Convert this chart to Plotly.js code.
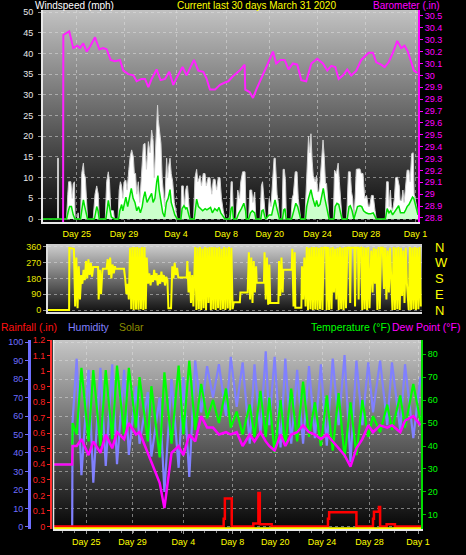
<!DOCTYPE html>
<html><head><meta charset="utf-8">
<script src="https://cdn.plot.ly/plotly-3.0.1.min.js"></script>
<style>html,body{margin:0;padding:0;background:#000;overflow:hidden}#chart{width:466px;height:555px}</style>
</head><body><div id="chart"></div>
<script>
// ---------------- DATA (x = days since left edge of chart) ----------------
const dayTicks = [2.8, 6.7, 11.0, 15.15, 18.75, 22.7, 26.7, 30.8];
const dayLabels = ['Day 25','Day 29','Day 4','Day 8','Day 20','Day 24','Day 28','Day 1'];

// Barometer (in) [day, value]
const baroSamples = [[0,28.7],[1.66,28.7],[1.68,30.34],[2.17,30.37],[2.5,30.23],[2.84,30.25],[3.06,30.23],[3.33,30.27],[3.61,30.20],[3.88,30.24],
[4.3,30.32],[4.66,30.22],[4.98,30.23],[5.26,30.22],[5.59,30.13],[5.95,30.12],[6.36,30.13],[6.64,30.04],[7.05,30.01],[7.47,30.00],
[7.74,29.95],[8.15,29.97],[8.43,29.97],[8.71,29.90],[8.98,29.97],[9.39,30.05],[9.72,29.96],[10.08,29.97],[10.44,30.03],[10.77,29.92],
[11.1,29.99],[11.54,30.07],[11.87,30.00],[12.48,30.13],[12.84,30.04],[13.25,30.03],[13.53,29.97],[13.8,29.88],[14.22,29.88],[14.63,29.92],
[15.04,29.94],[15.32,29.95],[15.68,29.99],[16.25,30.04],[16.67,30.09],[16.72,29.88],[17.08,29.86],[17.36,29.81],[17.63,29.88],[17.99,29.96],
[18.32,30.03],[18.59,30.10],[19.01,30.20],[19.28,30.10],[19.64,30.13],[19.97,30.13],[20.3,30.05],[20.66,30.10],[21.02,30.09],[21.35,29.96],
[21.76,29.95],[22.18,30.10],[22.67,30.14],[23.14,30.10],[23.5,30.04],[23.83,30.08],[24.16,30.07],[24.44,29.97],[24.8,30.00],[25.15,30.05],
[25.48,30.00],[25.9,30.04],[26.31,30.13],[26.64,30.16],[26.92,30.19],[27.27,30.19],[27.55,30.11],[27.96,30.09],[28.24,30.07],[28.57,30.11],
[28.92,30.19],[29.28,30.29],[29.61,30.23],[29.89,30.25],[30.16,30.20],[30.38,30.13],[30.66,30.04],[30.93,30.02]];

// Wind gust (mph) [day, value]
const gustSamples = [[0,0],[1.2,0],[1.21,14.7],[1.27,14.7],[1.28,0],[1.95,0],[2.05,6],[2.12,9],[2.3,9],[2.42,5],[2.5,8.5],[2.6,9],[2.66,0],[2.85,0],[2.9,1.5],[2.95,0],
[3.1,0],[3.2,11],[3.34,13.5],[3.4,11],[3.5,10],[3.62,3],[3.68,0],[4.15,0],[4.3,6],[4.44,8],[4.57,6],[4.65,0],[5.15,0],[5.26,9],[5.4,11.4],[5.5,9],[5.6,2],[5.82,2],[5.9,0],
[6.2,0],[6.3,7],[6.4,9],[6.5,8],[6.6,5],[6.7,9],[6.85,9.4],[6.95,7],[7.1,12],[7.2,15],[7.33,16.7],[7.47,15],[7.55,11],[7.65,11],[7.75,6],[7.88,9],[8.0,4],[8.1,9],
[8.2,14],[8.3,18],[8.43,18.3],[8.55,12],[8.71,18.7],[8.85,16],[8.98,21.5],[9.1,19],[9.2,10],[9.32,20],[9.4,26],[9.47,27.5],[9.53,24],[9.6,22],[9.75,18.3],[9.85,10],[9.95,5.3],[10.05,3],
[10.22,14.7],[10.3,10],[10.4,13],[10.5,14.7],[10.6,11],[10.72,9],[10.85,4],[11.0,1],[11.1,0],[11.4,0],[11.46,8],[11.6,8],[11.7,3],[11.8,7],[11.88,8],[11.95,8],[12.05,3],[12.15,0],
[12.45,0],[12.56,10],[12.7,12],[12.8,9],[12.98,10.5],[13.1,8],[13.25,11],[13.39,11],[13.5,8],[13.65,10],[13.8,10],[13.95,6],[14.08,9.6],[14.22,9.6],[14.35,7],[14.49,10],[14.63,10],[14.75,5],[14.9,2],[15.04,0],
[15.35,0],[15.45,1],[15.55,9],[15.65,9],[15.75,0],[15.95,0],[16.1,7],[16.25,5],[16.35,9],[16.5,11.4],[16.7,11.4],[16.8,0],[17.0,0],[17.1,7],[17.25,7],[17.35,4],[17.5,6.5],[17.6,0],
[17.95,0],[18.05,8],[18.15,9],[18.3,2],[18.4,0],[18.6,0],[18.7,5],[18.85,3],[19.0,9],[19.1,14.7],[19.2,14.7],[19.35,6],[19.45,4],[19.55,0],[19.75,0],[19.85,12],[19.95,12],[20.05,9],[20.12,0],
[20.5,0],[20.6,5],[20.7,6],[20.85,11.4],[21.0,11.4],[21.1,5],[21.2,3],[21.3,0],[21.65,0],[21.75,8],[21.85,12],[21.95,20],[22.05,16],[22.15,20.6],[22.25,14],[22.34,10.5],[22.5,9],[22.62,10.5],
[22.7,6.6],[22.8,6.6],[22.9,9],[23.03,15],[23.15,19.1],[23.25,15],[23.35,8.6],[23.44,8.6],[23.55,3],[23.65,0],[24.0,0],[24.1,11.8],[24.25,11],[24.4,13.5],[24.5,9],[24.6,5],[24.72,0],
[25.1,0],[25.25,11.4],[25.4,11.4],[25.5,6.6],[25.6,5],[25.7,0],[25.8,5],[25.9,12],[26.05,12.1],[26.2,12.1],[26.3,11],[26.45,11],[26.6,5],[26.75,5.7],[26.9,3],[27.0,3],[27.15,5.7],[27.3,5.7],[27.45,2],[27.55,0],
[28.3,0],[28.4,9],[28.54,9],[28.62,3],[28.72,7],[28.8,3],[28.9,2],[29.05,5],[29.15,10],[29.3,10.1],[29.45,8],[29.52,4.5],[29.65,4.5],[29.75,7],[29.85,4],[29.95,7],[30.1,11.8],[30.25,11.8],[30.35,9],
[30.48,15.8],[30.6,16],[30.68,6],[30.75,5],[30.89,3],[31.0,0]];

// Average wind (mph) [day, value]
const avgSamples = [[0,0],[1.95,0],[2.1,2],[2.2,3],[2.35,3],[2.5,1],[2.65,0],[3.1,0],[3.25,3],[3.34,4.6],[3.45,3],[3.6,1],[3.68,0],[4.25,0],[4.35,2],[4.44,3],[4.55,2],[4.65,0],
[5.2,0],[5.3,3],[5.4,4.5],[5.55,2],[5.65,0.5],[5.9,0],[6.25,0],[6.35,2],[6.5,3.5],[6.6,2],[6.7,3.5],[6.85,5.3],[7.0,3],[7.15,5],[7.3,7.4],[7.45,5],[7.6,4],[7.75,2],[7.9,3],[8.05,1.5],
[8.2,3],[8.3,5],[8.43,6.6],[8.6,4],[8.75,5],[8.98,6.2],[9.1,4],[9.25,5],[9.4,9],[9.5,10.5],[9.6,7],[9.75,4.5],[9.9,1.5],[10.05,0.5],[10.2,4],[10.35,5],[10.5,7.1],[10.6,4],[10.72,2.5],[10.9,1],[11.1,0],
[11.4,0],[11.5,2.5],[11.65,3.2],[11.8,2.5],[11.9,2.8],[12.05,1],[12.15,0],[12.5,0],[12.6,3],[12.7,4.8],[12.85,3],[13.0,2.5],[13.2,2],[13.4,2.5],[13.55,2.2],[13.7,2.5],[13.85,2.8],[14.0,1.5],
[14.2,2.5],[14.4,2],[14.55,2.8],[14.7,1.5],[14.9,0.5],[15.04,0],[15.45,0],[15.55,2.5],[15.65,3],[15.75,0],[16.0,0],[16.2,1.5],[16.4,2.5],[16.6,3.8],[16.75,2],[16.8,0],[17.0,0],[17.15,1.5],[17.3,2],[17.5,1.5],[17.6,0],
[18.0,0],[18.1,2],[18.2,2.2],[18.35,0.5],[18.4,0],[18.7,1],[18.9,1],[19.05,3],[19.18,4.6],[19.3,3],[19.45,1],[19.55,0],[19.8,0],[19.9,2.2],[20.0,2.5],[20.1,0],[20.55,0],[20.7,1.5],[20.9,3.8],[21.05,3],[21.2,1],[21.3,0],
[21.7,0],[21.8,3],[21.95,5],[22.05,6],[22.15,7.1],[22.3,5],[22.5,3],[22.62,4.5],[22.75,3],[22.9,3.5],[23.05,5.5],[23.17,7.4],[23.3,5],[23.45,3],[23.6,1],[23.65,0],[24.05,0],[24.15,3],[24.3,3.8],[24.45,3.5],[24.6,1.5],[24.72,0],
[25.15,0],[25.3,3],[25.4,3.2],[25.55,2],[25.7,0],[25.85,1.5],[26.0,3],[26.2,3.2],[26.35,3],[26.5,2],[26.7,1.5],[26.9,1.3],[27.1,1.3],[27.3,1.5],[27.45,0.5],[27.55,0],
[28.3,0],[28.45,2.5],[28.6,1.5],[28.75,2],[28.9,1],[29.1,2],[29.25,2.5],[29.4,3.2],[29.55,1.5],[29.7,1.5],[29.85,1.5],[29.95,2],[30.1,3],[30.25,3.5],[30.4,4.5],[30.55,5.3],[30.65,5],[30.8,3],[31.0,1]];

// Wind direction (degrees) [day, value]
const dirSamples = [[0,0],[1.75,0],[1.77,355],[2.15,350],[2.25,20],[2.35,300],[2.45,10],[2.55,250],[2.65,60],
[2.75,200],[2.85,150],[2.95,230],[3.05,170],[3.15,280],[3.25,180],[3.35,290],[3.45,200],[3.55,270],[3.65,190],
[3.75,245],[4.15,245],[4.2,60],[4.3,230],[4.4,90],[4.5,220],[4.55,235],[4.85,235],
[4.95,290],[5.05,200],[5.15,300],[5.25,180],[5.35,260],[5.45,210],[5.55,250],[5.6,235],[6.3,235],
[6.4,180],[6.5,90],[6.6,150],[6.7,60],
[6.8,355],[6.9,5],[7.0,360],[7.1,0],[7.2,358],[7.3,3],[7.4,360],[7.5,2],[7.6,355],[7.7,5],[7.8,360],[7.9,0],[8.0,358],[8.1,5],[8.18,300],
[8.3,150],[8.4,210],[8.5,140],[8.6,200],[8.7,160],[8.8,230],[8.9,170],[9.0,210],[9.1,140],[9.2,200],[9.3,150],[9.4,220],[9.5,160],[9.6,200],[9.7,140],[9.8,190],[9.9,170],
[9.98,10],[10.2,10],[10.3,250],[10.4,180],[10.5,270],[10.6,200],[10.7,240],[10.8,185],[11.5,185],
[11.55,280],[11.65,100],[11.75,220],[11.85,40],[11.95,200],[12.05,20],
[12.2,360],[12.3,0],[12.4,355],[12.5,5],[12.6,360],[12.7,0],[12.8,350],[12.9,10],[13.0,360],[13.1,0],[13.2,355],[13.3,40],[13.4,360],[13.5,0],[13.6,358],[13.7,5],
[13.8,360],[13.9,0],[14.0,355],[14.1,10],[14.2,360],[14.3,0],[14.4,350],[14.5,5],[14.6,360],[14.7,0],[14.8,355],[14.9,8],[15.0,360],[15.1,0],[15.2,355],[15.3,5],
[15.4,45],[15.9,45],[15.95,100],[16.55,100],
[16.65,330],[16.75,60],[16.85,300],[16.95,40],[17.05,280],[17.15,100],[17.25,250],[17.3,155],[17.9,155],
[17.95,330],[18.05,60],[18.15,300],[18.25,30],[18.35,260],[18.42,40],[19.1,40],
[19.15,280],[19.25,80],[19.35,300],[19.45,100],[19.5,230],[20.2,230],
[20.25,350],[20.35,20],[20.45,330],[20.5,13],[21.0,13],
[21.05,250],[21.15,60],[21.25,300],[21.35,20],
[21.45,360],[21.55,0],[21.65,355],[21.75,5],[21.85,360],[21.95,0],[22.05,358],[22.15,3],[22.25,360],[22.35,0],[22.45,355],[22.55,5],[22.65,360],[22.75,0],
[22.85,355],[23.05,355],[23.1,0],[23.2,360],[23.3,0],[23.4,355],[23.5,5],[23.6,360],
[23.7,100],[23.8,350],[23.9,60],[24.0,355],
[24.1,0],[24.2,360],[24.3,5],[24.4,355],[24.5,0],[24.6,360],[24.7,10],
[24.8,355],[25.0,355],[25.05,40],[25.1,355],[25.4,355],[25.45,20],[25.5,355],[25.7,355],[25.75,60],[25.8,350],[25.95,355],
[26.05,0],[26.15,360],[26.25,5],[26.35,355],[26.45,0],[26.55,360],[26.65,10],
[26.8,340],[26.9,100],[27.0,355],[27.1,150],[27.2,350],
[27.3,0],[27.4,360],[27.5,5],[27.6,355],
[27.75,355],[27.85,120],[27.95,355],[28.05,60],[28.15,340],[28.25,100],[28.35,355],[28.45,200],
[28.55,0],[28.65,360],[28.75,0],[28.85,355],[28.95,5],[29.05,360],[29.15,0],
[29.25,355],[29.35,80],[29.45,340],[29.55,40],[29.65,355],[29.75,150],
[29.9,0],[30.0,360],[30.1,0],[30.2,355],[30.3,5],[30.4,360],[30.5,0],[30.6,355],[30.7,5],[30.8,360],[30.9,20]];
const compassVals = [0, 90, 180, 270, 360];
const compassLabels = ['N','E','S','W','N'];

// Bottom panel, sampled at daily lows/highs
const climateDays = [0,1.62,1.65,2.0,2.4,3.0,3.4,4.0,4.45,5.0,5.4,6.0,6.4,7.0,7.3,8.0,8.3,9.0,9.4,10.0,
10.6,11.0,11.5,12.0,12.5,13.0,13.5,14.0,14.6,15.0,15.5,16.0,16.6,17.0,17.5,17.95,18.25,18.7,19.2,19.6,
20.1,20.6,21.1,21.6,22.1,22.6,23.1,23.6,24.1,24.6,25.1,25.6,26.1,26.6,27.0,27.6,28.2,28.6,29.3,29.7,30.4,31.0];
const temperature = [32,32,50,45,74,42,73,40,73,43,75,45,74,48,70,42,66,35,72,41,
75,45,77,47,67,52,60,50,65,48,55,45,58,44,64,44,61,37,60,40,
65,42,68,44,59,40,62,38,63,35,59,36,60,44,53,46,58,47,62,48,67,51];
const humidity = [0,0,57,91,28,85,24,86,33,88,34,85,39,76,45,73,38,70,19,80,
32,81,27,90,62,87,70,88,60,92,65,89,45,88,50,95,55,92,43,91,
45,85,45,87,48,88,44,91,55,93,35,90,55,89,62,90,55,89,52,88,48,81];
const dewPoint = [32,32,40,40,43,36,42,37,45,39,46,43,50,45,46,37,33,24,13,37,
40,36,45,42,53,48,48,45,46,45,46,40,45,42,46,42,40,38,45,40,
45,46,49,46,45,43,45,42,39,36,31,39,43,49,46,49,48,49,46,51,53,49];

// Rainfall (in), step values [day, value]
const rainSamples = [[0,0],[14.4,0.05],[14.5,0.18],[15.08,0],[16.9,0.02],[17.33,0.215],[17.45,0.015],[18.45,0],
[23.2,0.05],[23.3,0.092],[25.6,0],[27.0,0.05],[27.08,0.095],[27.5,0.126],[27.6,0],[28.15,0.015],[28.85,0],[31.05,0]];
// Solar (flat at zero over the period)
const solarSamples = [[0,0],[31.05,0]];

// ---------------- CHART ----------------
const W = 466, H = 555;
const px = v => v / W, py = v => 1 - v / H;
const FONT = "'Liberation Sans', Arial, sans-serif";
const xs = a => a.map(p => p[0]), ys = a => a.map(p => p[1]);
const grid = {showgrid: true, gridcolor: 'rgba(225,225,225,0.5)', griddash: 'dot', gridwidth: 1};

function grad(top, bottom) {
  const svg = `<svg xmlns="http://www.w3.org/2000/svg" width="10" height="100" preserveAspectRatio="none"><defs><linearGradient id="g" x1="0" y1="0" x2="0" y2="1"><stop offset="0" stop-color="${top}"/><stop offset="1" stop-color="${bottom}"/></linearGradient></defs><rect width="10" height="100" fill="url(#g)"/></svg>`;
  return 'data:image/svg+xml;charset=utf-8,' + encodeURIComponent(svg);
}
function bgImage(l, t, r, b, top, bottom) {
  return {source: grad(top, bottom), xref: 'paper', yref: 'paper', x: px(l), y: py(t),
    sizex: (r - l) / W, sizey: (b - t) / H, xanchor: 'left', yanchor: 'top', sizing: 'stretch', layer: 'below'};
}

const traces = [
  {x: xs(gustSamples), y: ys(gustSamples), xaxis: 'x', yaxis: 'y', type: 'scatter', mode: 'lines',
   fill: 'tozeroy', fillcolor: '#ffffff', line: {color: '#d0d0d0', width: 1}},
  {x: xs(avgSamples), y: ys(avgSamples), xaxis: 'x', yaxis: 'y', type: 'scatter', mode: 'lines',
   fill: 'tozeroy', fillcolor: '#ccffcc', line: {color: '#00e000', width: 1.5}},
  {x: xs(baroSamples), y: ys(baroSamples), xaxis: 'x', yaxis: 'y2', type: 'scatter', mode: 'lines',
   line: {color: '#ff22ff', width: 2}},
  {x: xs(dirSamples), y: ys(dirSamples), xaxis: 'x2', yaxis: 'y3', type: 'scatter', mode: 'lines',
   line: {color: '#ffff00', width: 2}},
  {x: [], y: [], xaxis: 'x2', yaxis: 'y4', type: 'scatter', mode: 'lines'},
  {x: climateDays, y: humidity, xaxis: 'x3', yaxis: 'y5', type: 'scatter', mode: 'lines',
   line: {color: '#8080ff', width: 2.2}},
  {x: climateDays, y: temperature, xaxis: 'x3', yaxis: 'y7', type: 'scatter', mode: 'lines',
   line: {color: '#00ff00', width: 2.2}},
  {x: climateDays, y: dewPoint, xaxis: 'x3', yaxis: 'y7', type: 'scatter', mode: 'lines',
   line: {color: '#ff00ff', width: 2.5}},
  {x: xs(solarSamples), y: ys(solarSamples), xaxis: 'x3', yaxis: 'y8', type: 'scatter', mode: 'lines',
   line: {color: '#ffff00', width: 2.5}},
  {x: xs(rainSamples), y: ys(rainSamples), xaxis: 'x3', yaxis: 'y6', type: 'scatter', mode: 'lines',
   line: {color: '#ff0000', width: 2.5, shape: 'hv'}}
];

const tickFontDay = {color: '#ffff00', size: 9, family: FONT};
const layout = {
  width: W, height: H, margin: {l: 0, r: 0, t: 0, b: 0},
  paper_bgcolor: '#000000', plot_bgcolor: 'rgba(0,0,0,0)', showlegend: false,
  font: {family: FONT, size: 9, color: '#ffffff'},
  xaxis: Object.assign({domain: [px(43), px(418)], range: [0, 31], anchor: 'y', tickmode: 'array',
    tickvals: dayTicks, ticktext: dayLabels, tickfont: tickFontDay, ticks: '', showline: true,
    linecolor: '#e8e8e8', linewidth: 2, zeroline: false, ticklabelstandoff: 2}, grid),
  yaxis: Object.assign({domain: [py(222), py(10)], range: [-0.72, 50.5], dtick: 5, tick0: 0,
    tickfont: {color: '#e8e8e8', size: 9}, ticks: 'outside', ticklen: 3, tickcolor: '#888',
    showline: true, linecolor: '#e8e8e8', linewidth: 2, zeroline: false, ticklabelstandoff: 3}, grid),
  yaxis2: {overlaying: 'y', side: 'right', anchor: 'x', range: [28.766, 30.55], dtick: 0.1, tick0: 28.8,
    tickfont: {color: '#ff00ff', size: 9}, ticks: 'outside', ticklen: 3, tickcolor: '#ff00ff',
    showline: true, linecolor: '#ff00ff', linewidth: 2, showgrid: false, zeroline: false},
  xaxis2: {domain: [px(48), px(422)], range: [0, 31], anchor: 'y3', showticklabels: false, ticks: '',
    showline: true, linecolor: '#dddddd', linewidth: 2, showgrid: false, zeroline: false},
  yaxis3: Object.assign({domain: [py(312), py(244)], range: [-11.4, 377], anchor: 'x2', tickmode: 'array',
    tickvals: compassVals, tickfont: {color: '#e6e600', size: 9}, ticks: 'outside', ticklen: 3,
    tickcolor: '#999', showline: true, linecolor: '#dddddd', linewidth: 2, zeroline: false}, grid),
  yaxis4: {overlaying: 'y3', side: 'right', anchor: 'x2', range: [-11.4, 377], tickmode: 'array',
    tickvals: compassVals, ticktext: compassLabels, tickfont: {color: '#ffff00', size: 13},
    showline: false, ticks: '', showgrid: false, zeroline: false, ticklabelstandoff: 12},
  xaxis3: Object.assign({domain: [px(53), px(421)], range: [0, 31.05], anchor: 'y5', tickmode: 'array',
    tickvals: dayTicks, ticktext: dayLabels, tickfont: tickFontDay, ticks: 'outside', ticklen: 3,
    tickcolor: '#999', showline: true, linecolor: '#e8e8e8', linewidth: 2, zeroline: false,
    minor: {ticks: 'outside', ticklen: 2, tickcolor: '#888', dtick: 1, tick0: 0.8, showgrid: false}}, grid),
  yaxis5: Object.assign({domain: [py(529), py(340)], anchor: 'free', position: px(29), side: 'left',
    range: [-1.1, 101.1], dtick: 10, tick0: 0, tickfont: {color: '#6e6eff', size: 9}, ticks: 'outside',
    ticklen: 3, tickcolor: '#6e6eff', showline: true, linecolor: '#6e6eff', linewidth: 3, zeroline: false}, grid),
  yaxis6: {overlaying: 'y5', anchor: 'free', position: px(51), side: 'left', range: [-0.016, 1.2],
    dtick: 0.1, tick0: 0, tickfont: {color: '#ff2020', size: 9}, ticks: 'outside', ticklen: 3,
    tickcolor: '#ff2020', showline: true, linecolor: '#ff3030', linewidth: 2, showgrid: false, zeroline: false},
  yaxis7: {overlaying: 'y5', side: 'right', anchor: 'x3', range: [3.9, 86.1], dtick: 10, tick0: 0,
    tickfont: {color: '#00ff00', size: 9}, ticks: 'outside', ticklen: 3, tickcolor: '#00c000',
    showline: true, linecolor: '#00dd00', linewidth: 2, showgrid: false, zeroline: false},
  yaxis8: {overlaying: 'y5', visible: false, range: [-0.3, 120]},
  images: [
    bgImage(43, 10, 418, 222, '#c2c2c2', '#080808'),
    bgImage(48, 244, 422, 312, '#d0d0d0', '#111111'),
    bgImage(53, 340, 421, 529, '#c6c6c6', '#050505')
  ],
  shapes: [
    {type: 'line', xref: 'paper', yref: 'paper', x0: px(53.5), x1: px(53.5), y0: py(529), y1: py(340),
     line: {color: '#e8e8e8', width: 1.5}}
  ],
  annotations: [
    {text: 'Windspeed (mph)', x: px(34), y: py(5.5), xanchor: 'left', color: '#ffffff', size: 10},
    {text: 'Current last 30 days March 31 2020', x: px(256), y: py(5.5), xanchor: 'center', color: '#ffff00', size: 10},
    {text: 'Barometer (.in)', x: px(441), y: py(5.5), xanchor: 'right', color: '#ff00ff', size: 10},
    {text: 'Rainfall (.in)', x: px(0), y: py(327), xanchor: 'left', color: '#ff1010', size: 10.5},
    {text: 'Humidity', x: px(67), y: py(327), xanchor: 'left', color: '#8080ff', size: 10.5},
    {text: 'Solar', x: px(118), y: py(327), xanchor: 'left', color: '#8c8c00', size: 10.5},
    {text: 'Temperature (°F)', x: px(391), y: py(327), xanchor: 'right', color: '#00ff00', size: 10.5},
    {text: 'Dew Point (°F)', x: px(461), y: py(327), xanchor: 'right', color: '#ff00ff', size: 10.5}
  ].map(a => ({text: a.text, x: a.x, y: a.y, xref: 'paper', yref: 'paper', xanchor: a.xanchor,
    yanchor: 'middle', showarrow: false, borderpad: 0, font: {color: a.color, size: a.size, family: FONT}}))
};

Plotly.newPlot('chart', traces, layout, {staticPlot: true, displayModeBar: false});
</script></body></html>
